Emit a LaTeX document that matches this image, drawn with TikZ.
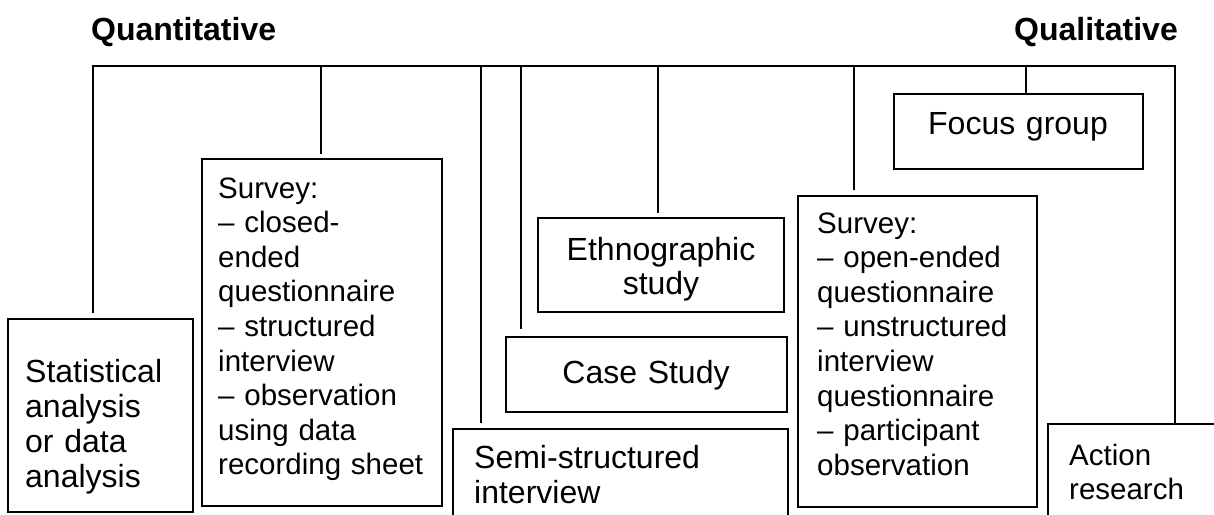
\documentclass[tikz,border=0pt]{standalone}
\usepackage{fontspec}
\setmainfont{Liberation Sans}
\usetikzlibrary{calc}
\begin{document}
\begin{tikzpicture}[x=1pt,y=-1pt,
  ln/.style={line width=1.7pt},
  boxn/.style={draw, line width=1.7pt, outer sep=0pt, inner sep=0pt, anchor=north west},
  fa/.style={font=\fontsize{32}{35.3}\selectfont},
  fb/.style={font=\fontsize{29.5}{34.6}\selectfont},
  ftitle/.style={font=\fontsize{32}{35}\selectfont\bfseries},
  lt/.style={inner sep=0pt, anchor=base west, text width=300pt, align=left},
  ct/.style={inner sep=0pt, anchor=base, text width=300pt, align=center},
]
\useasboundingbox (0,0) rectangle (1214,514);
\clip (0,0) rectangle (1214,514);

% titles
\node[ftitle, inner sep=0pt, anchor=base west] (quant) at (91,40) {Quantitative};
\node[ftitle, inner sep=0pt, anchor=base east] (qual) at (1178,40) {Qualitative};

% boxes
\node[boxn, minimum width=185pt, minimum height=193pt] (stat) at (8,319) {};
\node[boxn, minimum width=240pt, minimum height=347pt] (surv1) at (202,159) {};
\node[boxn, minimum width=335pt, minimum height=140pt] (semi) at (453,429) {};
\node[boxn, minimum width=281pt, minimum height=75pt] (case) at (506,337) {};
\node[boxn, minimum width=246pt, minimum height=94pt] (ethno) at (538,218) {};
\node[boxn, minimum width=239pt, minimum height=311pt] (surv2) at (798,196) {};
\node[boxn, minimum width=249pt, minimum height=75pt] (focus) at (894,94) {};
\node[boxn, minimum width=212pt, minimum height=136pt] (act) at (1048,424) {};

% texts
\node[lt, fa] (statT) at (25,382) {Statistical\\analysis\\or data\\analysis};
\node[lt, fb] (surv1T) at (218,198) {Survey:\\– closed-\\ended\\questionnaire\\– structured\\interview\\– observation\\using data\\recording sheet};
\node[lt, fa] (semiT) at (474,468) {Semi-structured\\interview};
\node[ct, fa] (caseT) at (646,383) {Case Study};
\node[ct, fa, font=\fontsize{32}{34}\selectfont] (ethnoT) at (661,260) {Ethnographic\\study};
\node[lt, fb] (surv2T) at (817,233) {Survey:\\– open-ended\\questionnaire\\– unstructured\\interview\\questionnaire\\– participant\\observation};
\node[ct, fa] (focusT) at (1018,134) {Focus group};
\node[lt, fb] (actT) at (1069,465) {Action\\research};

% connector spine
\coordinate (tl) at (93,66);
\coordinate (tr) at (1175,66);
\coordinate (t2) at (321,66);
\coordinate (t3) at (481,66);
\coordinate (t4) at (521,66);
\coordinate (t5) at (658,66);
\coordinate (t6) at (854,66);
\coordinate (t7) at (1026,66);

\draw[ln] ($(tl |- stat.north)+(0,-6)$) -- (tl) -- (tr) -- (tr |- act.north);
\draw[ln] (t2) -- ($(t2 |- surv1.north)+(0,-5)$);
\draw[ln] (t3) -- ($(t3 |- semi.north)+(0,-6)$);
\draw[ln] (t4) -- ($(t4 |- case.north)+(0,-8)$);
\draw[ln] (t5) -- ($(t5 |- ethno.north)+(0,-5)$);
\draw[ln] (t6) -- ($(t6 |- surv2.north)+(0,-6)$);
\draw[ln] (t7) -- (t7 |- focus.north);
\end{tikzpicture}
\end{document}
